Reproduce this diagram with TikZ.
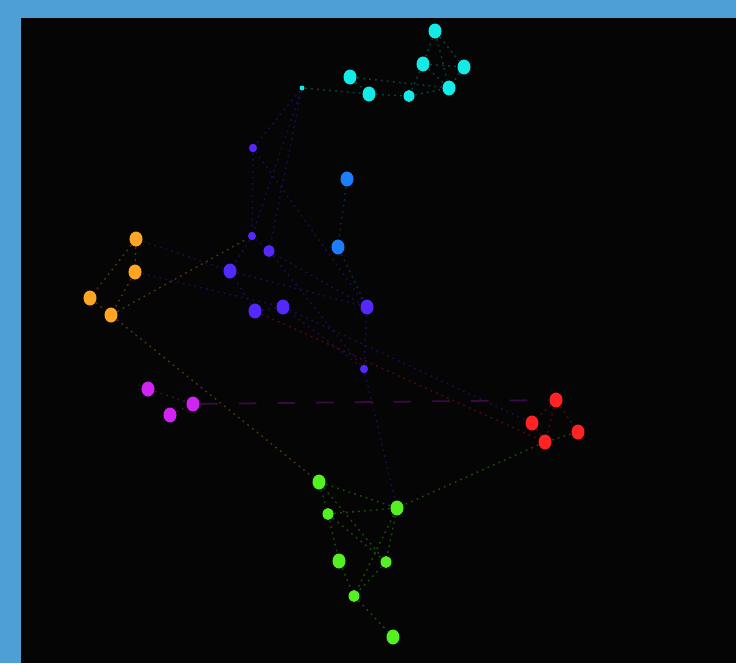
\documentclass[tikz,border=0pt]{standalone}
\usepackage{tikz}
\usetikzlibrary{arrows}
\usetikzlibrary{shapes.geometric}
\usepackage{xcolor}
\definecolor{framebl}{RGB}{78,159,212}
\definecolor{bgdark}{RGB}{5,5,5}
\definecolor{ncyan}{RGB}{20,235,230}
\definecolor{nblue}{RGB}{30,125,255}
\definecolor{nviolet}{RGB}{85,40,255}
\definecolor{norange}{RGB}{255,165,35}
\definecolor{nmagenta}{RGB}{210,35,245}
\definecolor{nred}{RGB}{255,35,35}
\definecolor{ngreen}{RGB}{85,240,35}

\begin{document}
\begin{tikzpicture}[x=0.01cm,y=-0.01cm]
\tikzstyle{every node}=[ellipse,inner sep=0pt,minimum width=0.13cm,minimum height=0.15cm]
\tikzstyle{small node}=[minimum width=0.08cm,minimum height=0.085cm]
\tikzstyle{tiny node}=[minimum width=0.05cm,minimum height=0.05cm]
\tikzstyle{mid node}=[minimum width=0.11cm,minimum height=0.12cm]
\tikzstyle{link}=[line width=0.4pt,dash pattern=on 0.5pt off 1.2pt]
\fill[framebl] (0,0) rectangle (736,663);
\fill[bgdark] (21,18) rectangle (736,663);
% cyan group
\node[fill=ncyan] (c1) at (435,31) {};
\node[fill=ncyan] (c2) at (423,64) {};
\node[fill=ncyan] (c3) at (464,67) {};
\node[fill=ncyan] (c4) at (350,77) {};
\node[fill=ncyan] (c5) at (369,94) {};
\node[fill=ncyan,mid node] (c6) at (409,96) {};
\node[fill=ncyan] (c7) at (449,88) {};
\node[fill=ncyan,tiny node] (c8) at (302,88) {};
% blue and violet group
\node[fill=nblue] (b1) at (347,179) {};
\node[fill=nblue] (b2) at (338,247) {};
\node[fill=nviolet,small node] (v1) at (253,148) {};
\node[fill=nviolet,small node] (v2) at (252,236) {};
\node[fill=nviolet,mid node] (v3) at (269,251) {};
\node[fill=nviolet] (v4) at (230,271) {};
\node[fill=nviolet] (v5) at (255,311) {};
\node[fill=nviolet] (v6) at (283,307) {};
\node[fill=nviolet] (v7) at (367,307) {};
\node[fill=nviolet,small node] (v8) at (364,369) {};
% orange group
\node[fill=norange] (o1) at (136,239) {};
\node[fill=norange] (o2) at (135,272) {};
\node[fill=norange] (o3) at (90,298) {};
\node[fill=norange] (o4) at (111,315) {};
% magenta group
\node[fill=nmagenta] (m1) at (148,389) {};
\node[fill=nmagenta] (m2) at (170,415) {};
\node[fill=nmagenta] (m3) at (193,404) {};
% red group
\node[fill=nred] (r1) at (556,400) {};
\node[fill=nred] (r2) at (532,423) {};
\node[fill=nred] (r3) at (545,442) {};
\node[fill=nred] (r4) at (578,432) {};
% green group
\node[fill=ngreen] (g1) at (319,482) {};
\node[fill=ngreen,mid node] (g2) at (328,514) {};
\node[fill=ngreen] (g3) at (397,508) {};
\node[fill=ngreen] (g4) at (339,561) {};
\node[fill=ngreen,mid node] (g5) at (386,562) {};
\node[fill=ngreen,mid node] (g6) at (354,596) {};
\node[fill=ngreen] (g7) at (393,637) {};
% links
\path[link,ncyan!30!black] (c8) edge (c5) (c4) edge (c7) (c5) edge (c6) (c6) edge (c7)
  (c2) edge (c1) (c1) edge (c3) (c2) edge (c3) (c2) edge (c7) (c3) edge (c7)
  (c1) edge (c7) (c2) edge (c6) (c4) edge (c5);
\path[link,nviolet!32!black] (c8) edge (v1) (c8) edge (v2) (c8) edge (v3)
  (v1) edge (v2) (v1) edge (v7) (v2) edge (v3) (v2) edge (v4) (v3) edge (v7)
  (v4) edge (v5) (v4) edge (v7) (v5) edge (v6) (v6) edge (v8) (v7) edge (v8)
  (v3) edge (v8) (o1) edge (v4) (o2) edge (v6) (v6) edge (r2) (v8) edge (g3);
\path[link,nblue!32!black] (b1) edge (b2) (b2) edge (v7);
\path[link,norange!32!black] (o1) edge (o2) (o1) edge (o3) (o2) edge (o4)
  (o3) edge (o4) (o4) edge (v2) (o4) edge (g1);
\path[link,nmagenta!32!black] (m1) edge (m3) (m2) edge (m3);
\path[nmagenta!28!black,line width=0.5pt,dash pattern=on 5pt off 6pt] (m3) edge (r1);
\path[link,nred!32!black] (v5) edge (r3) (r1) edge (r2) (r1) edge (r3)
  (r1) edge (r4) (r2) edge (r3);
\path[link,ngreen!32!black] (r3) edge (r4) (r3) edge (g3)
  (g1) edge (g2) (g1) edge (g3) (g1) edge (g5) (g2) edge (g3) (g2) edge (g4)
  (g2) edge (g5) (g3) edge (g6) (g3) edge (g5) (g4) edge (g6) (g5) edge (g6)
  (g6) edge (g7);
\end{tikzpicture}
\end{document}
